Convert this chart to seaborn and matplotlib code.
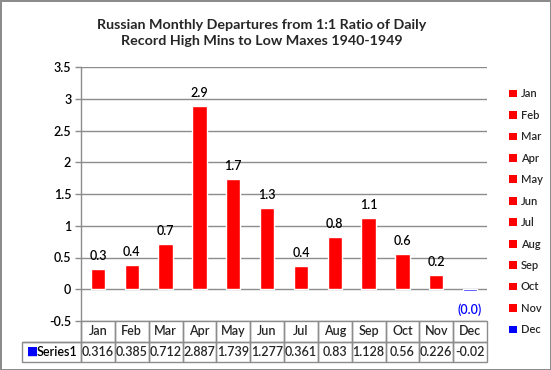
"""Russian monthly departures from 1:1 ratio of record high mins to low maxes, 1940-1949."""
import matplotlib
matplotlib.use("Agg")
import matplotlib.pyplot as plt
from matplotlib.patches import Patch
import seaborn as sns

months = ["Jan", "Feb", "Mar", "Apr", "May", "Jun",
          "Jul", "Aug", "Sep", "Oct", "Nov", "Dec"]
values = [0.316, 0.385, 0.712, 2.887, 1.739, 1.277,
          0.361, 0.83, 1.128, 0.56, 0.226, -0.02]
table_values = ["0.316", "0.385", "0.712", "2.887", "1.739", "1.277",
                "0.361", "0.83", "1.128", "0.56", "0.226", "-0.02"]
y_ticks = [-0.5, 0, 0.5, 1, 1.5, 2, 2.5, 3, 3.5]
series_name = "Series1"
title = "Russian Monthly Departures from 1:1 Ratio of Daily\nRecord High Mins to Low Maxes 1940-1949"

RED = "#FF0000"
BLUE = "#0000FF"
GRID = "#8C8C8C"
colors = [BLUE if v < 0 else RED for v in values]

sns.set_theme(style="white")
plt.rcParams["font.family"] = ["Lato", "DejaVu Sans"]
FW = "semibold"
FS = 9

W, H = 551, 370
fig = plt.figure(figsize=(W / 100, H / 100), dpi=100)
fig.patch.set_edgecolor(GRID)
fig.patch.set_linewidth(2)

# plot area in pixels: x 81..487, y 67..321
ax = fig.add_axes([81 / W, 1 - 321 / H, (487 - 81) / W, (321 - 67) / H])

sns.barplot(x=months, y=values, hue=months, palette=colors, legend=False,
            width=0.42, saturation=1, ax=ax)

ax.set_ylim(-0.5, 3.5)
ax.set_xlim(-0.5, 11.5)
ax.set_yticks(y_ticks)
ax.set_yticklabels([f"{t:g}" for t in y_ticks], fontsize=FS, color="black", fontweight=FW)
ax.set_xticks([])
ax.set_xlabel("")
ax.set_ylabel("")
ax.yaxis.grid(True, color=GRID, linewidth=1)
ax.set_axisbelow(True)
ax.tick_params(axis="y", which="both", left=True, length=4, width=1, color=GRID, pad=3)
for side in ["top", "right", "bottom"]:
    ax.spines[side].set_visible(False)
ax.spines["left"].set_color(GRID)
ax.spines["left"].set_linewidth(1)

# data labels
for i, v in enumerate(values):
    if v >= 0:
        ax.annotate(f"{v:.1f}", (i, v), xytext=(0, 5), textcoords="offset points",
                    ha="center", va="bottom", fontsize=FS, color="black", fontweight=FW)
    else:
        ax.annotate(f"({abs(v):.1f})", (i, v), xytext=(0, -9), textcoords="offset points",
                    ha="center", va="top", fontsize=FS, color=BLUE, fontweight=FW)

# data table under the axis
x0 = (22 - 81) / 406
tw = (487 - 22) / 406
th = (362 - 321) / 254
col_w = [59] + [406 / 12] * 12
cell_text = [[""] + months, [""] + table_values]
tbl = ax.table(cellText=cell_text, colWidths=col_w, cellLoc="center",
               bbox=[x0, -th, tw, th])
tbl.auto_set_font_size(False)
for (r, c), cell in tbl.get_celld().items():
    cell.set_edgecolor(GRID)
    cell.set_linewidth(1)
    cell.set_facecolor("none")
    cell.get_text().set_fontsize(FS)
    cell.get_text().set_fontweight(FW)
    if r == 0 and c == 0:
        cell.visible_edges = "BR"
fig.text(27 / W, 1 - 351.5 / H, "\u25A0", color=BLUE, fontsize=8.5,
         ha="left", va="center", family=["DejaVu Sans"])
fig.text(37 / W, 1 - 351.5 / H, series_name, color="black", fontsize=FS,
         ha="left", va="center", fontweight=FW)

# legend on the right
handles = [Patch(facecolor=c, edgecolor="none") for c in colors]
fig.legend(handles, months, loc="upper left", bbox_to_anchor=(505 / W, 1 - 84 / H),
           frameon=False, handlelength=0.7, handleheight=0.7,
           handletextpad=0.3, labelspacing=0.94, borderaxespad=0,
           prop={"weight": FW, "size": 8})

fig.text(262 / W, 1 - 33 / H, title, ha="center", va="center",
         fontsize=10.3, fontweight="bold", linespacing=1.45)

fig.savefig("out.png", dpi=100)
